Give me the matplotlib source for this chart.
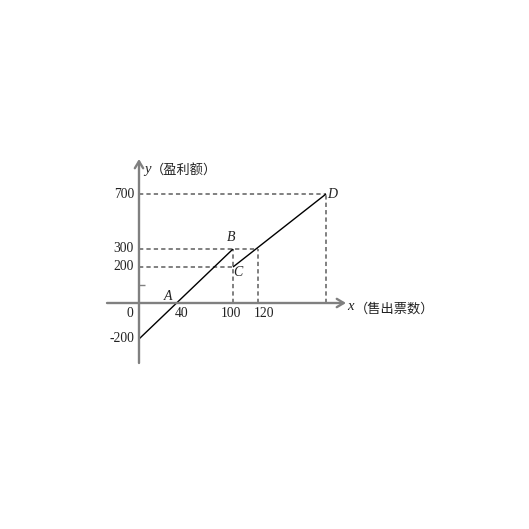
import numpy as np
import matplotlib.pyplot as plt

# chart values
x_ticks = [40, 100, 120]
y_ticks = [-200, 200, 300, 700]
ab_x = [0, 100]
ab_y = [-200, 300]
cd_x = [100, 200]
cd_y = [200, 700]
pt_names = ['A', 'B', 'C', 'D']
pt_x = [40, 100, 100, 200]
pt_y = [0, 300, 200, 700]
x_name = '（售出票数）'
y_name = '（盈利额）'

# the original drawing is not to scale: piecewise linear axes (pixels from origin)
x_knots, x_pix = [0, 100, 120, 200], [0, 94, 119, 187]
y_knots, y_pix = [0, 300, 700], [0, 54, 109]


def piecewise(src, dst):
    src = np.asarray(src, float)
    dst = np.asarray(dst, float)
    s0 = (dst[1] - dst[0]) / (src[1] - src[0])
    s1 = (dst[-1] - dst[-2]) / (src[-1] - src[-2])

    def f(v):
        v = np.asarray(v, float)
        out = np.interp(v, src, dst)
        out = np.where(v < src[0], dst[0] + (v - src[0]) * s0, out)
        out = np.where(v > src[-1], dst[-1] + (v - src[-1]) * s1, out)
        return out
    return f


fx, ix = piecewise(x_knots, x_pix), piecewise(x_pix, x_knots)
fy, iy = piecewise(y_knots, y_pix), piecewise(y_pix, y_knots)

fig = plt.figure(figsize=(5.29, 5.29), dpi=100)
ax = fig.add_axes([0, 0, 1, 1])
ax.set_xscale('function', functions=(fx, ix))
ax.set_yscale('function', functions=(fy, iy))
ax.set_xlim(float(ix(-139)), float(ix(390)))
ax.set_ylim(float(iy(-226)), float(iy(303)))

for s in ax.spines.values():
    s.set_visible(False)
ax.spines['left'].set_position(('data', 0))
ax.set_xticks([])
ax.set_yticks([100])
ax.set_yticklabels([])
ax.tick_params(axis='y', direction='in', length=4, width=1, color='#808080')

axis_col = '#808080'
# axes with open arrowheads
ax.annotate('', xy=(float(ix(207)), 0), xytext=(float(ix(-32)), 0),
            arrowprops=dict(arrowstyle='->,head_length=0.5,head_width=0.3',
                            color=axis_col, lw=1.7, shrinkA=0, shrinkB=0))
ax.annotate('', xy=(0, float(iy(144))), xytext=(0, float(iy(-60))),
            arrowprops=dict(arrowstyle='->,head_length=0.5,head_width=0.3',
                            color=axis_col, lw=1.7, shrinkA=0, shrinkB=0))

# dashed guide lines
dash = dict(color=axis_col, lw=1.4, ls=(0, (2.2, 1.6)))
ax.plot([0, cd_x[1]], [cd_y[1], cd_y[1]], **dash)
ax.plot([cd_x[1], cd_x[1]], [0, cd_y[1]], **dash)
ax.plot([0, 120], [300, 300], **dash)
ax.plot([120, 120], [0, 300], **dash)
ax.plot([0, ab_x[1]], [cd_y[0], cd_y[0]], **dash)
ax.plot([ab_x[1], ab_x[1]], [0, ab_y[1]], **dash)

# profit lines
ax.plot(ab_x, ab_y, color='black', lw=1.0, solid_capstyle='butt')
ax.plot(cd_x, cd_y, color='black', lw=1.0, solid_capstyle='butt')

num_font = dict(family='Liberation Serif', fontsize=9.8, color='#222222')
for v in y_ticks:
    ax.annotate(str(v), (0, v), xytext=(-5, 0), textcoords='offset pixels',
                ha='right', va='center', **num_font)
x_offsets = [4.5, -1.5, 6]
for v, dx in zip(x_ticks, x_offsets):
    ax.annotate(str(v), (v, 0), xytext=(dx, -4), textcoords='offset pixels',
                ha='center', va='top', **num_font)
ax.annotate('0', (0, 0), xytext=(-9, -4), textcoords='offset pixels',
            ha='center', va='top', **num_font)

pt_offsets = [(-8.5, 7), (-1.5, 11.5), (4.5, -5), (6.5, 0)]
for name, px, py, (dx, dy) in zip(pt_names, pt_x, pt_y, pt_offsets):
    ax.annotate(name, (px, py), xytext=(dx, dy), textcoords='offset pixels',
                ha='center', va='center', family='Liberation Serif',
                style='italic', fontsize=10, color='#222222')

# axis names
x_end = float(ix(207))
y_end = float(iy(144))
ax.annotate('x', (x_end, 0), xytext=(4.5, -4), textcoords='offset pixels',
            ha='center', va='center', family='Liberation Serif', style='italic',
            fontsize=10.5, color='#222222')
ax.annotate(x_name, (x_end, 0), xytext=(9, -6), textcoords='offset pixels',
            ha='left', va='center', family='Noto Sans CJK SC', fontsize=9.5,
            color='#222222')
ax.annotate('y', (0, y_end), xytext=(8, -11), textcoords='offset pixels',
            ha='center', va='center', family='Liberation Serif', style='italic',
            fontsize=10.5, color='#222222')
ax.annotate(y_name, (0, y_end), xytext=(12, -12), textcoords='offset pixels',
            ha='left', va='center', family='Noto Sans CJK SC', fontsize=9.5,
            color='#222222')

fig.savefig('out.png', dpi=100)
